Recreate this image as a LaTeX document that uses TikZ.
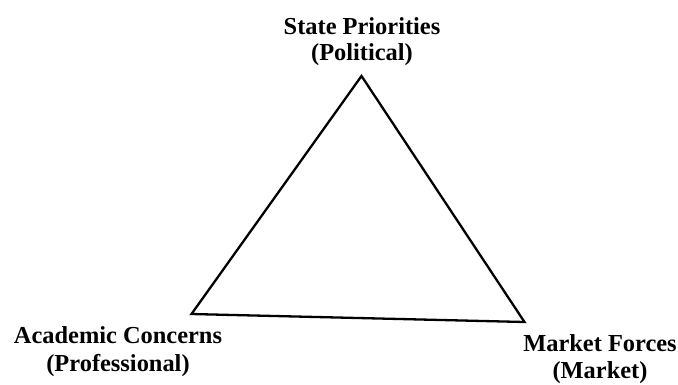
\documentclass[tikz,border=0pt]{standalone}
\usepackage{fontspec}
\setmainfont{Liberation Serif}
\begin{document}
\begin{tikzpicture}[x=1bp,y=-1bp,
  label/.style={align=center,inner sep=0pt,font=\fontsize{24.5}{29}\selectfont\bfseries},
  side/.style={line width=2.3bp,line join=miter}]
  \useasboundingbox (0,0) rectangle (678,384);
  % corners of the triangle
  \coordinate (top) at (361.5,76);
  \coordinate (left) at (191.5,314);
  \coordinate (right) at (524.5,322);
  \draw[side] (top) -- (right) -- (left) -- cycle;
  % corner labels
  \node[label] (state) at (362,26) {State Priorities};
  \node[label] (political) at (362,55) {(Political)};
  \node[label] (academic) at (118,335) {Academic Concerns};
  \node[label] (professional) at (118,365) {(Professional)};
  \node[label] (market) at (600,343) {Market Forces};
  \node[label] (marketsub) at (600,373) {(Market)};
\end{tikzpicture}
\end{document}
